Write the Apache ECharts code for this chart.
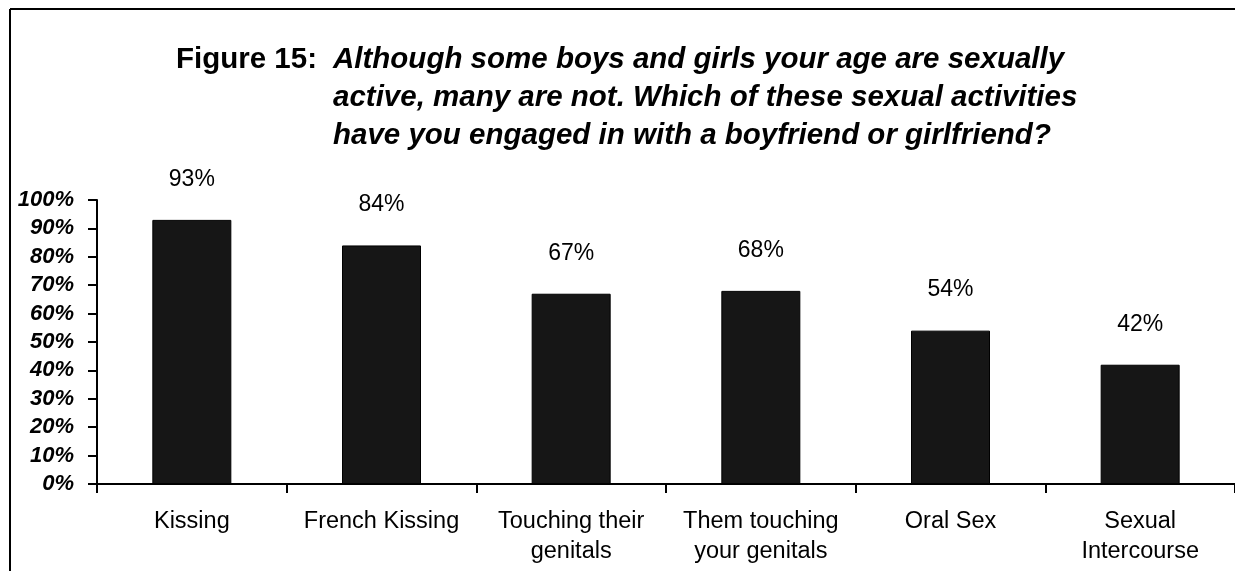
<!DOCTYPE html>
<html>
<head>
<meta charset="utf-8">
<script src="https://cdn.jsdelivr.net/npm/echarts@6/dist/echarts.min.js"></script>
<style>
html,body{margin:0;padding:0;background:#fff;}
#chart{width:1235px;height:571px;}
</style>
</head>
<body>
<div id="chart"></div>
<script>
var categories = ['Kissing', 'French Kissing', 'Touching their\ngenitals', 'Them touching\nyour genitals', 'Oral Sex', 'Sexual\nIntercourse'];
var values = [93, 84, 67, 68, 54, 42];
var titleLead = 'Figure 15:';
var titleBody = 'Although some boys and girls your age are sexually\nactive, many are not. Which of these sexual activities\nhave you engaged in with a boyfriend or girlfriend?';

var FONT = '"Liberation Sans", Arial, sans-serif';
var chart = echarts.init(document.getElementById('chart'), null, {renderer: 'canvas'});
chart.setOption({
  backgroundColor: '#fff',
  animation: false,
  title: [
    {
      text: titleLead, left: 176, top: 41, padding: 0,
      textStyle: {fontFamily: FONT, fontSize: 29.5, fontWeight: 'bold', color: '#000', lineHeight: 38}
    },
    {
      text: titleBody, left: 333, top: 41, padding: 0,
      textStyle: {fontFamily: FONT, fontSize: 29.5, fontWeight: 'bold', fontStyle: 'italic', color: '#000', lineHeight: 38}
    }
  ],
  graphic: [
    {type: 'line', shape: {x1: 10, y1: 9, x2: 1235, y2: 9}, style: {stroke: '#000', lineWidth: 2}},
    {type: 'line', shape: {x1: 10, y1: 9, x2: 10, y2: 571}, style: {stroke: '#000', lineWidth: 2}}
  ],
  grid: {left: 97, right: -3, top: 200, bottom: 87, containLabel: false},
  xAxis: {
    type: 'category',
    data: categories,
    axisLine: {lineStyle: {color: '#000', width: 2}},
    axisTick: {show: true, alignWithLabel: false, length: 9, lineStyle: {color: '#000', width: 2}},
    axisLabel: {fontFamily: FONT, fontSize: 23.5, color: '#000', lineHeight: 30, margin: 23, interval: 0}
  },
  yAxis: {
    type: 'value',
    min: 0, max: 100, interval: 10,
    splitLine: {show: false},
    axisLine: {show: true, lineStyle: {color: '#000', width: 2}},
    axisTick: {show: true, length: 9, lineStyle: {color: '#000', width: 2}},
    axisLabel: {
      fontFamily: FONT, fontSize: 22, fontWeight: 'bold', fontStyle: 'italic', color: '#000', margin: 23,
      formatter: function (v) { return v + '%'; }
    }
  },
  series: [{
    type: 'bar',
    data: values,
    barWidth: 79,
    itemStyle: {color: '#161616', borderColor: '#000', borderWidth: 1},
    label: {
      show: true, position: 'top', distance: 29,
      fontFamily: FONT, fontSize: 23, color: '#000',
      formatter: function (p) { return p.value + '%'; }
    }
  }]
});
</script>
</body>
</html>
